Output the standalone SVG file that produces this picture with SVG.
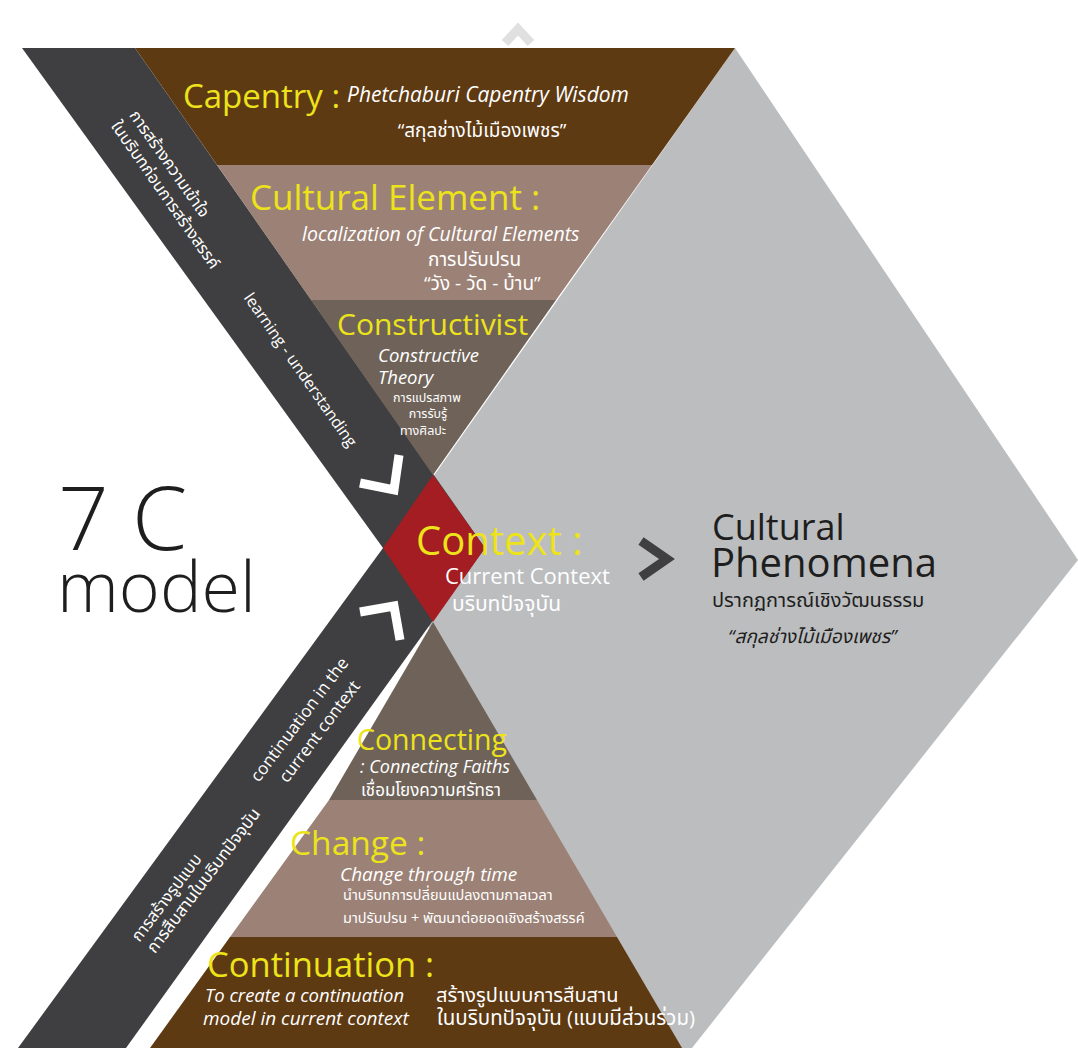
<svg xmlns="http://www.w3.org/2000/svg" width="1078" height="1048" viewBox="0 0 1078 1048">
<style>
.yl{fill:#EDE31B;font-family:'Open Sans','Noto Sans',sans-serif;}
.wt{fill:#FFFFFF;font-family:'Open Sans','Noto Sans','Noto Sans Thai',sans-serif;}
.it{font-style:italic;}
.blk{fill:#1E1E1E;font-family:'Open Sans','Noto Sans','Noto Sans Thai',sans-serif;}
.band{fill:#3F3F41;}
.dbrown{fill:#5E3A13;}
.mauve{fill:#9C8276;}
.taupe{fill:#6F6359;}
.chev{fill:none;stroke-width:9;stroke-linejoin:miter;}
</style>
<rect width="1078" height="1048" fill="#FFFFFF"/>

<g id="background-shapes">
  <polygon id="phenomena-shape" points="735,48 1078,560 692,1048 675,1048 383,548" fill="#BCBDBF"/>
  <polygon id="upper-band" class="band" points="22,48 135,48 485,548 383,548"/>
  <polygon id="lower-band" class="band" points="383,548 485,548 126,1048 18,1048"/>
</g>

<g id="capentry">
  <polygon class="dbrown" points="135,48 735,48 652,165 217,165"/>
  <text class="yl" x="183" y="108" font-size="33">Capentry :</text>
  <text class="wt it" x="347" y="102" font-size="21">Phetchaburi Capentry Wisdom</text>
  <text class="wt" x="482" y="137" font-size="19" text-anchor="middle">“สกุลช่างไม้เมืองเพชร”</text>
</g>

<g id="cultural-element">
  <polygon class="mauve" points="217,165 652,165 556,300 311,300"/>
  <text class="yl" x="250" y="210" font-size="35">Cultural Element :</text>
  <text class="wt it" x="302" y="241" font-size="19.5">localization of Cultural Elements</text>
  <text class="wt" x="428" y="266" font-size="19">การปรับปรน</text>
  <text class="wt" x="424" y="290" font-size="19">“วัง - วัด - บ้าน”</text>
</g>

<g id="constructivist">
  <polygon class="taupe" points="311,300 556,300 433,475"/>
  <text class="yl" x="337" y="335" font-size="30">Constructivist</text>
  <text class="wt it" x="378" y="362" font-size="18.5">Constructive</text>
  <text class="wt it" x="378" y="384" font-size="18.5">Theory</text>
  <text class="wt" x="427" y="402" font-size="12.5" text-anchor="middle">การแปรสภาพ</text>
  <text class="wt" x="428" y="418" font-size="12.5" text-anchor="middle">การรับรู้</text>
  <text class="wt" x="423" y="435" font-size="12.5" text-anchor="middle">ทางศิลปะ</text>
</g>

<g id="context">
  <polygon points="383,548 433,475 485,548 433,622" fill="#A31D22"/>
  <text class="yl" x="416" y="555" font-size="40">Context :</text>
  <text class="wt" x="445" y="584" font-size="22">Current Context</text>
  <text class="wt" x="452" y="611" font-size="21">บริบทปัจจุบัน</text>
</g>

<g id="connecting">
  <polygon class="taupe" points="433,622 537,800 329,800"/>
  <text class="yl" x="357" y="750" font-size="28.5">Connecting</text>
  <text class="wt it" x="360" y="773" font-size="18">: Connecting Faiths</text>
  <text class="wt" x="361" y="796" font-size="17">เชื่อมโยงความศรัทธา</text>
</g>

<g id="change">
  <polygon class="mauve" points="329,800 537,800 617,937 230,937"/>
  <text class="yl" x="290" y="855" font-size="33.5">Change :</text>
  <text class="wt it" x="340" y="881" font-size="19">Change through time</text>
  <text class="wt" x="343" y="900" font-size="14.5">นำบริบทการปลี่ยนแปลงตามกาลเวลา</text>
  <text class="wt" x="343" y="923" font-size="14.5">มาปรับปรน + พัฒนาต่อยอดเชิงสร้างสรรค์</text>
</g>

<g id="continuation">
  <polygon class="dbrown" points="230,937 617,937 682,1048 150,1048"/>
  <text class="yl" x="207" y="977" font-size="34.5">Continuation :</text>
  <text class="wt it" x="205" y="1002" font-size="18.5">To create a continuation</text>
  <text class="wt it" x="203" y="1025" font-size="19">model in current context</text>
  <text class="wt" x="436" y="1002" font-size="20">สร้างรูปแบบการสืบสาน</text>
  <text class="wt" x="437" y="1025" font-size="20.5">ในบริบทปัจจุบัน (แบบมีส่วนร่วม)</text>
</g>

<g id="band-labels">
  <text class="wt" font-size="16.5" text-anchor="middle" transform="translate(165,167) rotate(55)">การสร้างความเข้าใจ</text>
  <text class="wt" font-size="16.5" text-anchor="middle" transform="translate(161,198) rotate(55)">ในบริบทก่อนการสร้างสรรค์</text>
  <text class="wt" font-size="16" text-anchor="middle" transform="translate(296,373) rotate(55)">learning - understanding</text>
  <text class="wt" font-size="17" text-anchor="middle" transform="translate(304,723) rotate(-53)">continuation in the</text>
  <text class="wt" font-size="17" text-anchor="middle" transform="translate(324,735) rotate(-53)">current context</text>
  <text class="wt" font-size="16.5" text-anchor="middle" transform="translate(171,901) rotate(-53)">การสร้างรูปแบบ</text>
  <text class="wt" font-size="17" text-anchor="middle" transform="translate(208,884) rotate(-53)">การสืบสานในบริบทปัจจุบัน</text>
</g>

<g id="title">
  <text class="blk" x="58" y="550" font-size="89" font-weight="300">7 C</text>
  <text class="blk" x="57" y="612" font-size="70" font-weight="300">model</text>
</g>

<g id="phenomena">
  <text class="blk" x="712" y="540" font-size="36">Cultural</text>
  <text class="blk" x="711" y="577" font-size="40">Phenomena</text>
  <text class="blk" x="712" y="607" font-size="20">ปรากฏการณ์เชิงวัฒนธรรม</text>
  <text class="blk it" x="728" y="643" font-size="19" fill="#333">“สกุลช่างไม้เมืองเพชร”</text>
</g>

<g id="connectors">
  <polyline class="chev" stroke="#FFFFFF" points="399,455 394,490 360,483"/>
  <polyline class="chev" stroke="#FFFFFF" points="360,612 394,606 400,640"/>
  <polyline class="chev" stroke="#3F3F41" points="641,541 667,559 641,577"/>
  <polyline class="chev" stroke="#E0E0E0" stroke-width="7" points="505,43 518,29 531,43"/>
</g>
</svg>
